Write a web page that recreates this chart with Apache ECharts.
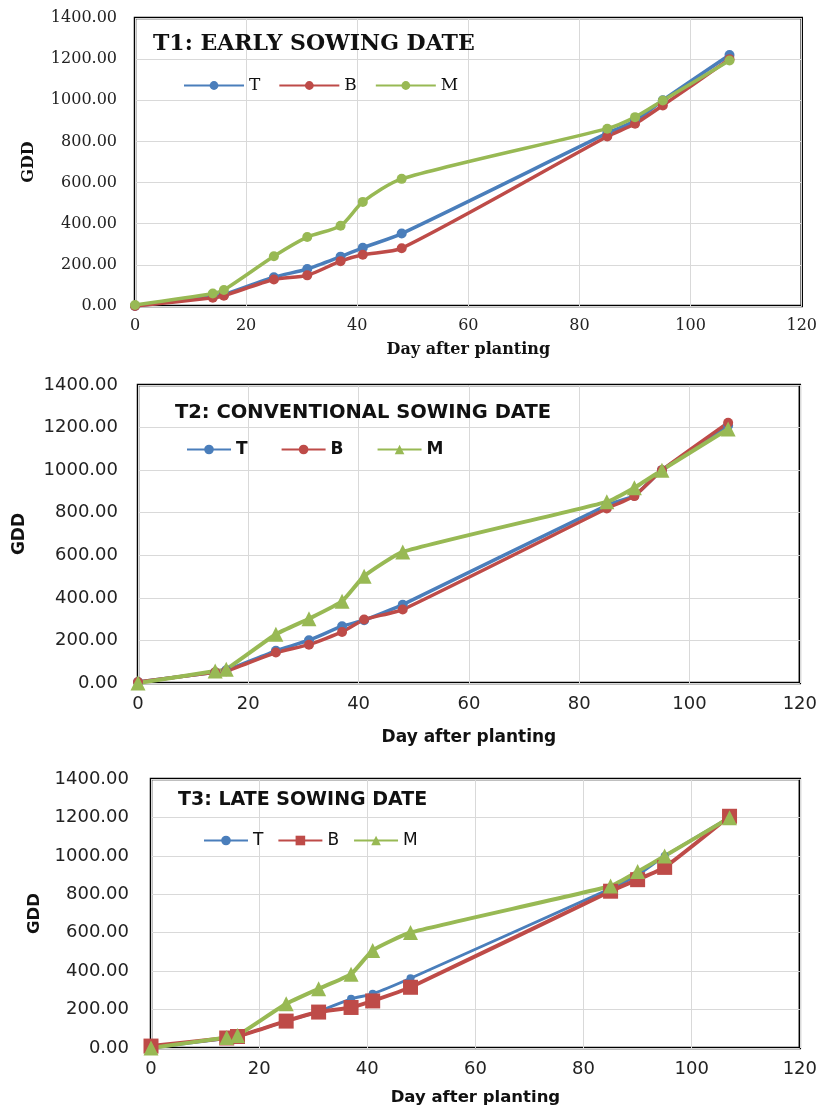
<!DOCTYPE html>
<html>
<head>
<meta charset="utf-8">
<script src="https://cdn.jsdelivr.net/npm/echarts@6/dist/echarts.min.js"></script>
<style>
  html, body { margin: 0; padding: 0; background: #fff; }
  #main { width: 820px; height: 1107px; }
</style>
</head>
<body>
<div id="main"></div>
<script>
  // days after planting (same sampling dates in all three panels)
  var days = [0, 14, 16, 25, 31, 37, 41, 48, 85, 90, 95, 107];

  // T1: early sowing date
  var t1T = [0, 45, 55, 140, 180, 240, 283, 352, 840, 900, 1000, 1220];
  var t1B = [0, 40, 50, 129, 149, 218, 249, 281, 824, 886, 975, 1200];
  var t1M = [5, 61, 78, 242, 335, 390, 506, 618, 862, 918, 999, 1193];

  // T2: conventional sowing date
  var t2T = [5, 50, 60, 151, 201, 267, 295, 368, 835, 880, 1000, 1210];
  var t2B = [5, 50, 55, 143, 180, 240, 298, 345, 820, 878, 1000, 1223];
  var t2M = [0, 56, 65, 229, 302, 384, 502, 616, 851, 917, 1000, 1193];

  // T3: late sowing date
  var t3T = [0, 50, 60, 140, 190, 256, 282, 363, 830, 900, 999, 1200];
  var t3B = [10, 52, 60, 140, 187, 211, 245, 316, 816, 876, 940, 1206];
  var t3M = [0, 55, 65, 230, 308, 384, 508, 601, 843, 918, 999, 1198];

  var titles = ['T1: EARLY SOWING DATE', 'T2: CONVENTIONAL SOWING DATE', 'T3: LATE SOWING DATE'];
  var yTicks = [0, 200, 400, 600, 800, 1000, 1200, 1400];
  var xTicks = [0, 20, 40, 60, 80, 100, 120];

  var blue = '#4A7EBB', red = '#BE4B48', green = '#98B954';

  function pairs(ys) {
    return days.map(function (d, i) { return [d, ys[i]]; });
  }

  var grids = [
    { left: 135, right: 16, top: 18, height: 288 },
    { left: 138, right: 18, top: 385, height: 298 },
    { left: 151, right: 20, top: 779, height: 270 }
  ];
  var fonts = ['DejaVu Serif', 'DejaVu Sans', 'DejaVu Sans'];
  var labelSize = [16, 18, 18];
  var nameSize = [16, 17, 16.5];
  var yNameGap = [98, 110, 108];
  var xNameGap = [36, 46, 41];
  var yLabelMargin = [18, 20, 22];

  var myChart = echarts.init(document.getElementById('main'));
  var option = {
    backgroundColor: '#fff',
    animation: false,
    title: [
      { text: titles[0], left: 148, top: 28, textStyle: { fontFamily: fonts[0], fontWeight: 'bold', fontSize: 22, color: '#111' } },
      { text: titles[1], left: 170, top: 398, textStyle: { fontFamily: fonts[1], fontWeight: 'bold', fontSize: 19.5, color: '#111' } },
      { text: titles[2], left: 173, top: 786, textStyle: { fontFamily: fonts[2], fontWeight: 'bold', fontSize: 19, color: '#111' } }
    ],
    legend: [
      { data: ['1-T', '1-B', '1-M'], left: 178, top: 72, itemWidth: 60, itemHeight: 11, itemGap: 18,
        formatter: function (n) { return n.split('-')[1]; },
        textStyle: { fontFamily: fonts[0], fontSize: 17, color: '#111' } },
      { data: ['2-T', '2-B', '2-M'], left: 181, top: 436, itemWidth: 44, itemHeight: 12, itemGap: 33,
        formatter: function (n) { return n.split('-')[1]; },
        textStyle: { fontFamily: fonts[1], fontWeight: 'bold', fontSize: 17, color: '#111' } },
      { data: ['3-T', '3-B', '3-M'], left: 198, top: 827, itemWidth: 44, itemHeight: 12, itemGap: 14,
        formatter: function (n) { return n.split('-')[1]; },
        textStyle: { fontFamily: fonts[2], fontSize: 17, color: '#111' } }
    ],
    grid: grids.map(function (g) {
      return { left: g.left, right: g.right, top: g.top, height: g.height,
        show: true, borderColor: '#000', borderWidth: 2.5, backgroundColor: '#fff' };
    }),
    xAxis: [0, 1, 2].map(function (i) {
      return {
        type: 'value', gridIndex: i, min: xTicks[0], max: xTicks[xTicks.length - 1], interval: 20,
        name: 'Day after planting', nameLocation: 'middle', nameGap: xNameGap[i],
        nameTextStyle: { fontFamily: fonts[i], fontWeight: 'bold', fontSize: nameSize[i], color: '#111' },
        axisLine: { show: false }, axisTick: { show: false },
        axisLabel: { fontFamily: fonts[i], fontSize: labelSize[i], color: '#222', margin: 12 },
        splitLine: { show: true, lineStyle: { color: '#d9d9d9', width: 1 } }
      };
    }),
    yAxis: [0, 1, 2].map(function (i) {
      return {
        type: 'value', gridIndex: i, min: yTicks[0], max: yTicks[yTicks.length - 1], interval: 200,
        name: 'GDD', nameLocation: 'middle', nameGap: yNameGap[i],
        nameTextStyle: { fontFamily: fonts[i], fontWeight: 'bold', fontSize: nameSize[i], color: '#111' },
        axisLine: { show: false }, axisTick: { show: false },
        axisLabel: { fontFamily: fonts[i], fontSize: labelSize[i], color: '#222', margin: yLabelMargin[i],
          formatter: function (v) { return v.toFixed(2); } },
        splitLine: { show: true, lineStyle: { color: '#d9d9d9', width: 1 } }
      };
    }),
    series: [
      // panel 1
      { name: '1-T', type: 'line', xAxisIndex: 0, yAxisIndex: 0, data: pairs(t1T), smooth: 0.25,
        symbol: 'circle', symbolSize: 10, color: blue, lineStyle: { width: 3.5 } },
      { name: '1-B', type: 'line', xAxisIndex: 0, yAxisIndex: 0, data: pairs(t1B), smooth: 0.25,
        symbol: 'circle', symbolSize: 10, color: red, lineStyle: { width: 3.5 } },
      { name: '1-M', type: 'line', xAxisIndex: 0, yAxisIndex: 0, data: pairs(t1M), smooth: 0.25,
        symbol: 'circle', symbolSize: 10, color: green, lineStyle: { width: 3.5 } },
      // panel 2
      { name: '2-T', type: 'line', xAxisIndex: 1, yAxisIndex: 1, data: pairs(t2T), smooth: 0.15,
        symbol: 'circle', symbolSize: 10, color: blue, lineStyle: { width: 3.5 } },
      { name: '2-B', type: 'line', xAxisIndex: 1, yAxisIndex: 1, data: pairs(t2B), smooth: 0.15,
        symbol: 'circle', symbolSize: 10, color: red, lineStyle: { width: 3.5 } },
      { name: '2-M', type: 'line', xAxisIndex: 1, yAxisIndex: 1, data: pairs(t2M), smooth: 0.15,
        symbol: 'triangle', symbolSize: 15, color: green, lineStyle: { width: 4 } },
      // panel 3
      { name: '3-T', type: 'line', xAxisIndex: 2, yAxisIndex: 2, data: pairs(t3T), smooth: 0.15,
        symbol: 'circle', symbolSize: 8, color: blue, lineStyle: { width: 3 } },
      { name: '3-B', type: 'line', xAxisIndex: 2, yAxisIndex: 2, data: pairs(t3B), smooth: 0.15,
        symbol: 'rect', symbolSize: 15, color: red, lineStyle: { width: 4 } },
      { name: '3-M', type: 'line', xAxisIndex: 2, yAxisIndex: 2, data: pairs(t3M), smooth: 0.15,
        symbol: 'triangle', symbolSize: 15, color: green, lineStyle: { width: 4 } }
    ]
  };
  option && myChart.setOption(option);
</script>
</body>
</html>
